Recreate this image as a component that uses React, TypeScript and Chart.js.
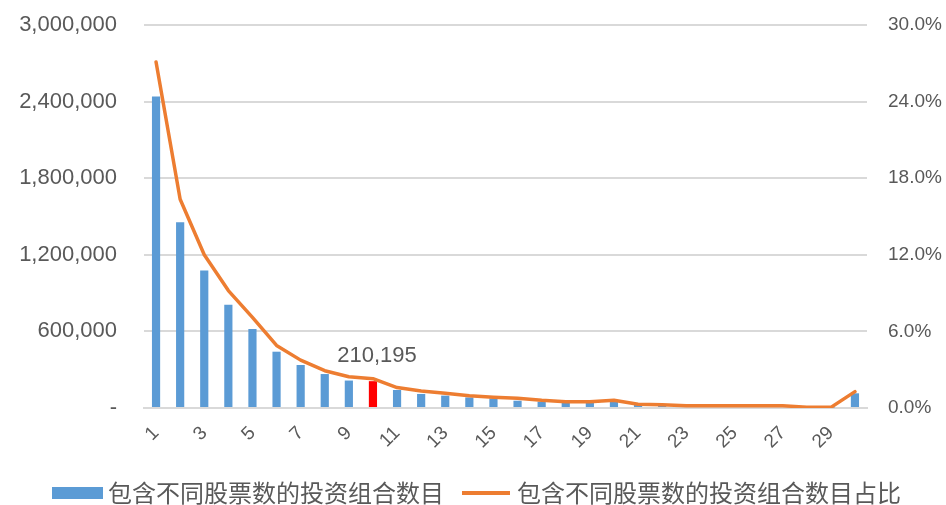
import { useEffect, useRef } from "react";
import { Chart, registerables } from "chart.js";

Chart.register(...registerables);

// Number of distinct stocks held in a portfolio
const categories = [
  "1", "2", "3", "4", "5", "6", "7", "8", "9", "10",
  "11", "12", "13", "14", "15", "16", "17", "18", "19", "20",
  "21", "22", "23", "24", "25", "26", "27", "28", "29", "30",
];

// Portfolio counts per number of stocks
const portfolioCounts = [
  2440000, 1455000, 1077000, 809000, 619000, 441000, 337000, 266000, 215000, 210195,
  141000, 110000, 97000, 83000, 75000, 57000, 49000, 44000, 44000, 57000,
  27000, 23000, 16000, 15000, 16000, 16000, 15000, 5000, 4000, 115000,
];

// Share of all portfolios (%)
const portfolioShares = [
  27.1, 16.35, 12.0, 9.2, 7.1, 4.9, 3.75, 2.92, 2.45, 2.3,
  1.6, 1.33, 1.15, 0.96, 0.84, 0.76, 0.6, 0.49, 0.49, 0.6,
  0.3, 0.25, 0.18, 0.18, 0.18, 0.18, 0.18, 0.06, 0.05, 1.28,
];

const leftTicks = [0, 600000, 1200000, 1800000, 2400000, 3000000];
const rightTicks = [0, 6, 12, 18, 24, 30];

const seriesNames = ["包含不同股票数的投资组合数目", "包含不同股票数的投资组合数目占比"];
const highlightIndex = 9;

const BLUE = "#5B9BD5";
const RED = "#FF0000";
const ORANGE = "#ED7D31";
const TEXT = "#595959";
const GRID = "#D9D9D9";
const LATIN = "'Liberation Sans', Arial, sans-serif";
const CJK = "'Noto Sans CJK SC', sans-serif";

const valueLabelPlugin = {
  id: "valueLabel",
  afterDatasetsDraw(chart: any) {
    const meta = chart.getDatasetMeta(0);
    const el = meta.data[highlightIndex];
    if (!el) return;
    const ctx = chart.ctx;
    ctx.save();
    ctx.font = `22px ${LATIN}`;
    ctx.fillStyle = TEXT;
    ctx.textAlign = "center";
    ctx.textBaseline = "alphabetic";
    ctx.fillText(portfolioCounts[highlightIndex].toLocaleString("en-US"), el.x + 4, el.y - 19);
    ctx.restore();
  },
};

const legendRowPlugin = {
  id: "legendRow",
  afterDraw(chart: any) {
    const ctx = chart.ctx;
    const y = 493;
    ctx.save();
    ctx.font = `24px ${CJK}`;
    ctx.fillStyle = TEXT;
    ctx.textBaseline = "middle";
    ctx.textAlign = "left";
    let x = 52;
    ctx.fillStyle = BLUE;
    ctx.fillRect(x, y - 6, 51, 12);
    x += 56;
    ctx.fillStyle = TEXT;
    ctx.fillText(seriesNames[0], x, y);
    x += ctx.measureText(seriesNames[0]).width + 18;
    ctx.strokeStyle = ORANGE;
    ctx.lineWidth = 4;
    ctx.beginPath();
    ctx.moveTo(x, y);
    ctx.lineTo(x + 48, y);
    ctx.stroke();
    x += 55;
    ctx.fillText(seriesNames[1], x, y);
    ctx.restore();
  },
};

export default function App() {
  const canvasRef = useRef<HTMLCanvasElement | null>(null);

  useEffect(() => {
    document.body.style.margin = "0";
    const canvas = canvasRef.current;
    if (!canvas) return;

    const chart = new Chart(canvas, {
      type: "bar",
      data: {
        labels: categories,
        datasets: [
          {
            type: "bar",
            label: seriesNames[0],
            data: portfolioCounts,
            backgroundColor: portfolioCounts.map((_, i) => (i === highlightIndex ? RED : BLUE)),
            borderWidth: 0,
            barPercentage: 0.34,
            categoryPercentage: 1,
            yAxisID: "y",
            order: 2,
          },
          {
            type: "line",
            label: seriesNames[1],
            data: portfolioShares,
            borderColor: ORANGE,
            backgroundColor: ORANGE,
            borderWidth: 3.5,
            pointRadius: 0,
            tension: 0,
            borderJoinStyle: "round",
            borderCapStyle: "round",
            yAxisID: "y1",
            order: 1,
          },
        ],
      },
      options: {
        animation: false,
        responsive: true,
        maintainAspectRatio: false,
        layout: { padding: { top: 25, bottom: 37, left: 0, right: 0 } },
        plugins: {
          legend: { display: false },
          tooltip: { enabled: false },
        },
        scales: {
          x: {
            grid: { display: false, drawTicks: false },
            border: { display: true, color: GRID, width: 2 },
            ticks: {
              autoSkip: false,
              minRotation: 45,
              maxRotation: 45,
              padding: 14,
              color: TEXT,
              font: { family: LATIN, size: 19 },
              callback: (_v: any, i: number) => (i % 2 === 0 ? categories[i] : ""),
            },
            afterFit: (s: any) => {
              s.height = 60;
            },
          },
          y: {
            position: "left",
            min: 0,
            max: 3000000,
            afterBuildTicks: (s: any) => {
              s.ticks = leftTicks.map((v) => ({ value: v }));
            },
            grid: { color: GRID, lineWidth: 2, drawTicks: false },
            border: { display: false },
            ticks: {
              padding: 27,
              color: TEXT,
              font: { family: LATIN, size: 22 },
              callback: (v: any) => (Number(v) === 0 ? "-" : Number(v).toLocaleString("en-US")),
            },
            afterFit: (s: any) => {
              s.width = 144;
              s.paddingTop = 0;
              s.paddingBottom = 0;
            },
          },
          y1: {
            position: "right",
            min: 0,
            max: 30,
            afterBuildTicks: (s: any) => {
              s.ticks = rightTicks.map((v) => ({ value: v }));
            },
            grid: { display: false, drawTicks: false },
            border: { display: false },
            ticks: {
              padding: 21,
              color: TEXT,
              font: { family: LATIN, size: 19 },
              callback: (v: any) => `${Number(v).toFixed(1)}%`,
            },
            afterFit: (s: any) => {
              s.width = 79;
              s.paddingTop = 0;
              s.paddingBottom = 0;
            },
          },
        },
      },
      plugins: [valueLabelPlugin, legendRowPlugin],
    } as any);

    return () => chart.destroy();
  }, []);

  return (
    <div style={{ position: "relative", width: 946, height: 505 }}>
      <canvas ref={canvasRef} />
    </div>
  );
}
